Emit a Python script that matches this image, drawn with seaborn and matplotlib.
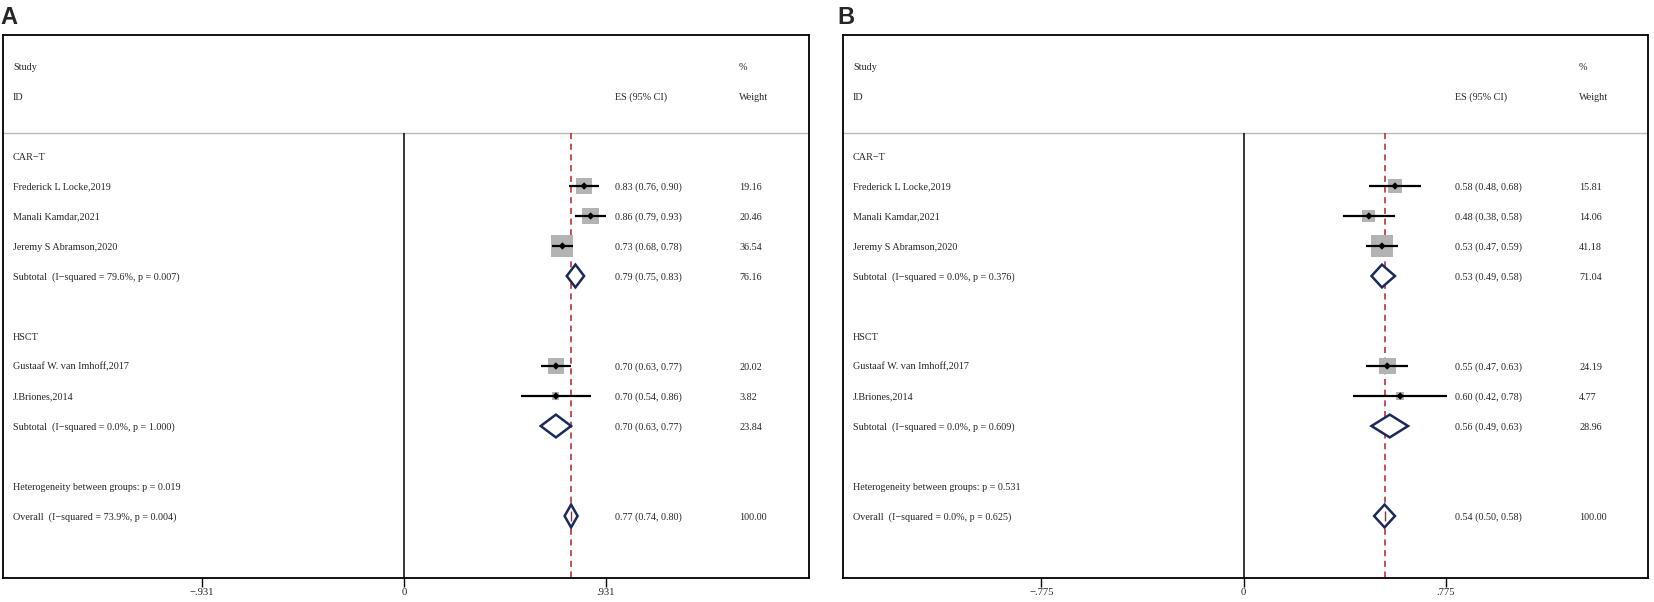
import matplotlib
matplotlib.use("Agg")
import matplotlib.pyplot as plt
import seaborn as sns
import pandas as pd
import numpy as np

# ---- data -------------------------------------------------------------
studies = ["Frederick L Locke,2019", "Manali Kamdar,2021", "Jeremy S Abramson,2020",
           "Gustaaf W. van Imhoff,2017", "J.Briones,2014"]
study_rows = [4, 5, 6, 10, 11]

a_es = [0.83, 0.86, 0.73, 0.70, 0.70]
a_lo = [0.76, 0.79, 0.68, 0.63, 0.54]
a_hi = [0.90, 0.93, 0.78, 0.77, 0.86]
a_wt = [19.16, 20.46, 36.54, 20.02, 3.82]
a_pool_es = [0.79, 0.70, 0.77]
a_pool_lo = [0.75, 0.63, 0.74]
a_pool_hi = [0.83, 0.77, 0.80]
a_pool_wt = [76.16, 23.84, 100.00]
a_pool_lab = ["Subtotal  (I\u2212squared = 79.6%, p = 0.007)",
              "Subtotal  (I\u2212squared = 0.0%, p = 1.000)",
              "Overall  (I\u2212squared = 73.9%, p = 0.004)"]
a_het = "Heterogeneity between groups: p = 0.019"
a_tick = 0.931

b_es = [0.58, 0.48, 0.53, 0.55, 0.60]
b_lo = [0.48, 0.38, 0.47, 0.47, 0.42]
b_hi = [0.68, 0.58, 0.59, 0.63, 0.78]
b_wt = [15.81, 14.06, 41.18, 24.19, 4.77]
b_pool_es = [0.53, 0.56, 0.54]
b_pool_lo = [0.49, 0.49, 0.50]
b_pool_hi = [0.58, 0.63, 0.58]
b_pool_wt = [71.04, 28.96, 100.00]
b_pool_lab = ["Subtotal  (I\u2212squared = 0.0%, p = 0.376)",
              "Subtotal  (I\u2212squared = 0.0%, p = 0.609)",
              "Overall  (I\u2212squared = 0.0%, p = 0.625)"]
b_het = "Heterogeneity between groups: p = 0.531"
b_tick = 0.775

pool_rows = [7, 12, 15]
group_names = ["CAR\u2212T", "HSCT"]
group_rows = [3, 9]
het_row = 14

# ---- style ------------------------------------------------------------
sns.set_style("white")
plt.rcParams["font.family"] = ["Liberation Serif", "DejaVu Serif"]
FS = 7.3
VA = "center_baseline"
GRAY = "#b3b3b3"
NAVY = "#1b2a5c"
RED = "#b0232a"

W, H = 1654, 602
fig = plt.figure(figsize=(W / 100, H / 100), dpi=100)

# row k sits at pixel y = 66 + 30k
def row_lim(py):
    return (py - 66) / 30.0

TOP, BOT = 35, 578
LINE_ROW = row_lim(133)


def panel(rect, es, lo, hi, wt, pes, plo, phi, pwt, plab, het, tick, zero_px, unit_px, x0px):
    left, right = rect
    ax = fig.add_axes([left / W, 1 - BOT / H, (right - left) / W, (BOT - TOP) / H])
    xmin = (left - zero_px) / unit_px
    xmax = (right - zero_px) / unit_px

    def px2x(px):
        return (px - zero_px) / unit_px

    tx = px2x(x0px + 10)
    es_x = px2x(x0px + 612)
    wt_x = px2x(x0px + 736)

    # header
    ax.text(tx, 0, "Study", fontsize=FS, va=VA)
    ax.text(tx, 1, "ID", fontsize=FS, va=VA)
    ax.text(es_x, 1, "ES (95% CI)", fontsize=FS, va=VA)
    ax.text(wt_x, 0, "%", fontsize=FS, va=VA)
    ax.text(wt_x, 1, "Weight", fontsize=FS, va=VA)
    ax.axhline(LINE_ROW, color="#b8b8b8", lw=1.0)

    # reference lines
    ax.vlines(0, LINE_ROW, row_lim(BOT), color="black", lw=1.1)
    ax.vlines(pes[-1], LINE_ROW, row_lim(BOT), color=RED, lw=1.1, linestyles=(0, (4, 3)))

    for g, r in zip(group_names, group_rows):
        ax.text(tx, r, g, fontsize=FS, va=VA)

    # studies
    df = pd.DataFrame({"es": es, "row": study_rows, "weight": wt})
    wmax = max(wt)
    sizes = {w: (22 * np.sqrt(w / wmax) / (100 / 72)) ** 2 for w in wt}
    sns.scatterplot(data=df, x="es", y="row", size="weight", sizes=sizes, marker="s",
                    color=GRAY, edgecolor="none", legend=False, ax=ax, zorder=2)
    ax.hlines(study_rows, lo, hi, color="black", lw=1.6, zorder=3)
    sns.scatterplot(data=df, x="es", y="row", marker="D", s=14, color="black",
                    edgecolor="none", legend=False, ax=ax, zorder=4)
    for name, r, e, l, h, w in zip(studies, study_rows, es, lo, hi, wt):
        ax.text(tx, r, name, fontsize=FS, va=VA)
        ax.text(es_x, r, f"{e:.2f} ({l:.2f}, {h:.2f})", fontsize=FS, va=VA)
        ax.text(wt_x, r, f"{w:.2f}", fontsize=FS, va=VA)

    # pooled diamonds
    hh = 0.38
    for lab, r, e, l, h, w in zip(plab, pool_rows, pes, plo, phi, pwt):
        ax.fill([l, e, h, e, l], [r, r - hh, r, r + hh, r], facecolor="white",
                edgecolor=NAVY, lw=1.8, zorder=3)
        ax.text(tx, r, lab, fontsize=FS, va=VA)
        ax.text(es_x, r, f"{e:.2f} ({l:.2f}, {h:.2f})", fontsize=FS, va=VA)
        ax.text(wt_x, r, f"{w:.2f}", fontsize=FS, va=VA)
    # dashed segment shows through the overall diamond
    ax.vlines(pes[-1], pool_rows[-1] - hh * 0.45, pool_rows[-1] + hh * 0.45,
              color=RED, lw=1.0, zorder=4)
    ax.text(tx, het_row, het, fontsize=FS, va=VA)

    ax.set_xlim(xmin, xmax)
    ax.set_ylim(row_lim(BOT), row_lim(TOP))
    ax.set_xlabel("")
    ax.set_ylabel("")
    ax.set_yticks([])
    ax.set_xticks([-tick, 0, tick])
    ax.set_xticklabels([f"\u2212{tick:.3f}".replace("0.", "."), "0", f"{tick:.3f}".replace("0.", ".")],
                       fontsize=FS + 0.4)
    ax.tick_params(axis="x", direction="out", length=6.5, width=1.0, pad=1.0, color="black",
                   bottom=True)
    for s in ax.spines.values():
        s.set_color("black")
        s.set_linewidth(1.3)
    return ax


panel((3, 809), a_es, a_lo, a_hi, a_wt, a_pool_es, a_pool_lo, a_pool_hi, a_pool_wt,
      a_pool_lab, a_het, a_tick, zero_px=404, unit_px=217, x0px=3)
panel((843, 1648), b_es, b_lo, b_hi, b_wt, b_pool_es, b_pool_lo, b_pool_hi, b_pool_wt,
      b_pool_lab, b_het, b_tick, zero_px=1243.6, unit_px=261, x0px=843)

fig.text(0 / W, 1 - 6 / H, "A", fontsize=17, fontweight="bold", va="top", ha="left",
         family=["Liberation Sans", "DejaVu Sans"])
fig.text(837 / W, 1 - 6 / H, "B", fontsize=17, fontweight="bold", va="top", ha="left",
         family=["Liberation Sans", "DejaVu Sans"])

fig.savefig("out.png", dpi=100)
